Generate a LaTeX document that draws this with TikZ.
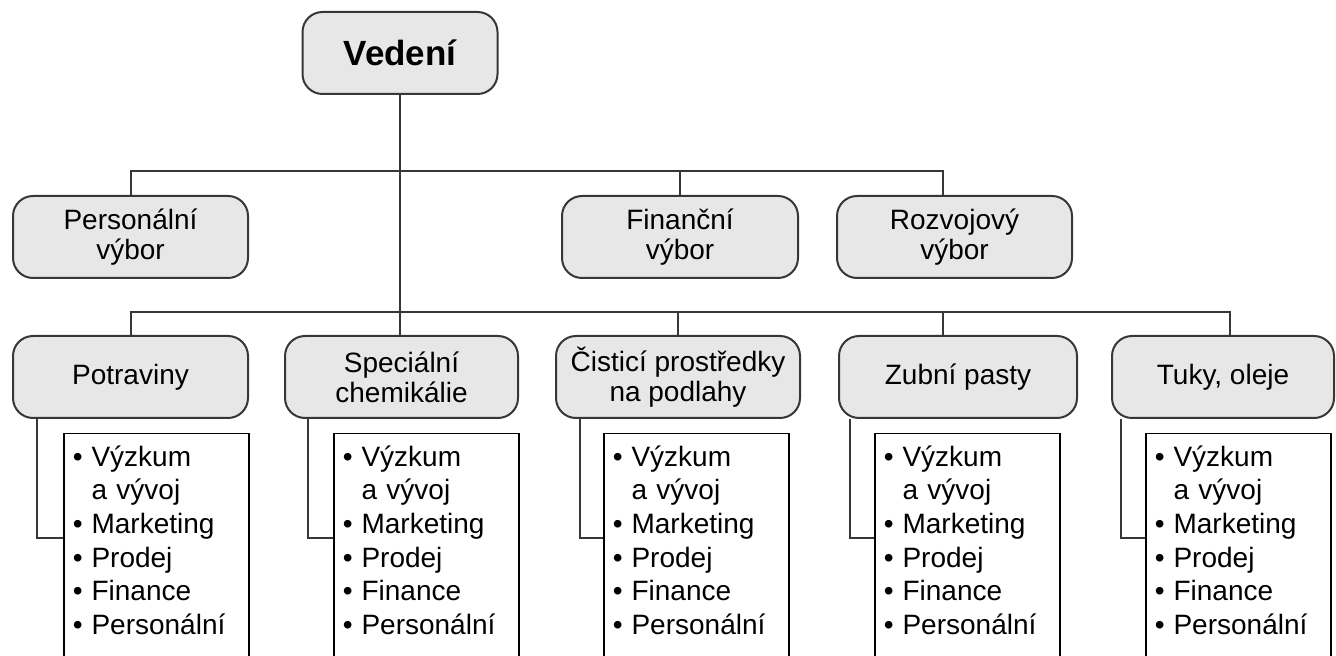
\documentclass[tikz,border=0pt]{standalone}
\usepackage{fontspec}
\usepackage{tikz}
\setmainfont{Liberation Sans}
\definecolor{boxgray}{RGB}{231,231,231}
\definecolor{edgegray}{RGB}{55,55,55}
\newcommand{\polozka}[1]{\textbullet\hspace{4.5pt}#1}
\newcommand{\pokr}[1]{\phantom{\textbullet}\hspace{4.5pt}#1}
\newcommand{\seznam}{\polozka{Výzkum}\\\pokr{a vývoj}\\\polozka{Marketing}\\\polozka{Prodej}\\\polozka{Finance}\\\polozka{Personální}}

\begin{document}
\begin{tikzpicture}[x=0.5pt, y=-0.5pt,
  orgbox/.style={draw=edgegray, line width=1pt, fill=boxgray, rounded corners=10pt, minimum height=41pt, align=center, font=\fontsize{14}{15}\selectfont},
  listbox/.style={draw, line width=0.75pt, anchor=north west, inner xsep=4.5pt, inner ysep=6pt, text width=83.5pt, align=left, text depth=120pt, font=\fontsize{14}{16.8}\selectfont},
  conn/.style={draw=edgegray, line width=1pt}]
\useasboundingbox (0,0) rectangle (1336,656);
\clip (0,0) rectangle (1336,656);
% vedeni a vybory
\node[orgbox, minimum width=97.5pt] (ved) at (400,53) {\bfseries\fontsize{17.5}{20}\selectfont Vedení};
\node[orgbox, minimum width=117.5pt] (pers) at (130.5,237) {Personální\\výbor};
\node[orgbox, minimum width=118pt] (fin) at (680,237) {Finanční\\výbor};
\node[orgbox, minimum width=117.5pt] (roz) at (954.5,237) {Rozvojový\\výbor};
% divize
\node[orgbox, minimum width=117.5pt] (pot) at (130.5,377) {Potraviny};
\node[orgbox, minimum width=116.5pt] (spe) at (401.5,377) {Speciální\\chemikálie};
\node[orgbox, minimum width=122pt] (cis) at (678,377) {Čisticí prostředky\\na podlahy};
\node[orgbox, minimum width=119pt] (zub) at (958,377) {Zubní pasty};
\node[orgbox, minimum width=111pt] (tuk) at (1223,377) {Tuky, oleje};
% funkce
\node[listbox] (potl) at (63,433) {\seznam};
\node[listbox] (spel) at (333,433) {\seznam};
\node[listbox] (cisl) at (603,433) {\seznam};
\node[listbox] (zubl) at (874,433) {\seznam};
\node[listbox] (tukl) at (1145,433) {\seznam};
% spoje
\coordinate (j1) at (400,171);
\coordinate (j2) at (400,312);
\draw[conn] (ved.south) -- (ved.south |- spe.north);
\draw[conn] (pers.north) |- (j1) -| ([xshift=-6pt]roz.north);
\draw[conn] (fin.north) -- (fin.north |- j1);
\draw[conn] (pot.north) |- (j2) -| ([xshift=3.5pt]tuk.north);
\draw[conn] (cis.north) -- (cis.north |- j2);
\draw[conn] ([xshift=-7.5pt]zub.north) -- ++(0,-24);
\draw[conn] (pot.south west) ++(25,0) |- (potl.west |- 0,538);
\draw[conn] (spe.south west) ++(24,0) |- (spel.west |- 0,538);
\draw[conn] (cis.south west) ++(25,0) |- (cisl.west |- 0,538);
\draw[conn] (zub.south west) ++(12,0) |- (zubl.west |- 0,538);
\draw[conn] (tuk.south west) ++(10,0) |- (tukl.west |- 0,538);
\end{tikzpicture}
\end{document}
